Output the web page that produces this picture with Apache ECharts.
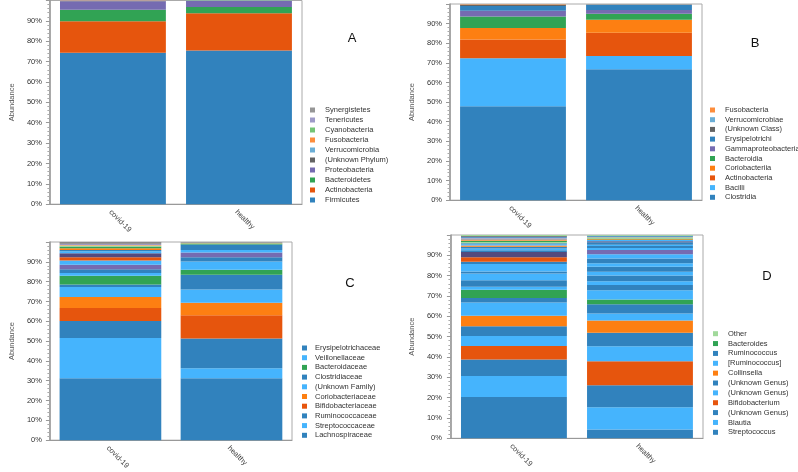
<!DOCTYPE html>
<html>
<head>
<meta charset="utf-8">
<script src="https://cdn.jsdelivr.net/npm/echarts@6/dist/echarts.min.js"></script>
<style>
html,body{margin:0;padding:0;background:#fff;width:798px;height:472px;overflow:hidden;}
.p{position:absolute;}
</style>
</head>
<body>
<div id="pA" class="p" style="left:0;top:0;width:400px;height:236px;"></div>
<div id="pB" class="p" style="left:400px;top:0;width:398px;height:232px;"></div>
<div id="pC" class="p" style="left:0;top:236px;width:400px;height:236px;"></div>
<div id="pD" class="p" style="left:400px;top:232px;width:398px;height:240px;"></div>
<script>
// ---------------- DATA ----------------
const categories = ['covid-19', 'healthy'];
const yTicks = [0, 10, 20, 30, 40, 50, 60, 70, 80, 90];

// Panel A – phylum (stack order bottom -> top)
const phylumNames   = ['Firmicutes','Actinobacteria','Bacteroidetes','Proteobacteria','(Unknown Phylum)','Verrucomicrobia','Fusobacteria','Cyanobacteria','Tenericutes','Synergistetes'];
const phylumCovid   = [74.3, 15.5, 5.7, 4.1, 0.1, 0.05, 0.1, 0.05, 0.05, 0.05];
const phylumHealthy = [75.5, 18.2, 3.1, 2.9, 0.1, 0.05, 0.05, 0.05, 0.03, 0.02];

// Panel B – class
const classNames   = ['Clostridia','Bacilli','Actinobacteria','Coriobacteriia','Bacteroidia','Gammaproteobacteria','Erysipelotrichi','(Unknown Class)','Verrucomicrobiae','Fusobacteria'];
const classCovid   = [47.9, 24.5, 9.5, 5.9, 5.8, 2.9, 2.5, 0.6, 0.2, 0.2];
const classHealthy = [66.8, 6.7, 11.9, 6.6, 3.0, 2.0, 2.7, 0.1, 0.1, 0.1];

// Panel C – family
const familyNames   = ['Lachnospiraceae','Streptococcaceae','Ruminococcaceae','Bifidobacteriaceae','Coriobacteriaceae','(Unknown Family)','Clostridiaceae','Bacteroidaceae','Veillonellaceae','Erysipelotrichaceae'];
const familyCovid   = [31.2, 20.3, 8.6, 6.6, 5.6, 5.0, 1.2, 4.5, 1.3, 2.0];
const familyHealthy = [31.3, 5.0, 15.0, 11.7, 6.3, 6.7, 7.5, 2.5, 4.2, 2.1];
// remaining minor families (no legend entry)
const familyMinorCovid   = [2.2, 2.2, 1.6, 2.0, 1.0, 0.7, 0.8, 0.9, 0.5, 0.3, 0.5, 0.7, 0.3];
const familyMinorHealthy = [2.4, 1.3, 2.7, 0.6, 0.1, 0.1, 0.1, 0.4];

// Panel D – genus
const genusNames   = ['Streptococcus','Blautia','(Unknown Genus)','Bifidobacterium','(Unknown Genus)','(Unknown Genus)','Collinsella','[Ruminococcus]','Ruminococcus','Bacteroides'];
const genusCovid   = [20.3, 10.3, 8.2, 6.6, 4.9, 4.8, 5.2, 6.5, 2.2, 4.1];
const genusHealthy = [4.3, 11.0, 10.8, 11.8, 7.4, 6.6, 6.1, 3.4, 4.5, 2.4];
const genusMinorCovid   = [1.5, 3.1, 3.4, 0.9, 3.7, 1.1, 2.3, 2.5, 0.9, 0.8, 0.9, 0.6, 0.6, 0.5, 0.7, 0.6, 0.5, 0.5, 0.5, 0.4, 0.4];
const genusMinorHealthy = [4.5, 2.6, 1.9, 2.8, 1.8, 2.5, 1.7, 2.4, 2.0, 2.1, 1.0, 1.0, 0.6, 1.2, 0.5, 0.6, 0.4, 0.4, 0.5, 0.4, 0.4];
const genusOtherName = 'Other';
const genusOther = [0.5, 0.4];

// ---------------- STYLE ----------------
const BL = '#3182bd', LB = '#45b4fd', OR = '#e6550d', ORG = '#fd7f12', GR = '#31a354',
      PU = '#756bb1', NV = '#544a7d', DG = '#636363', SB = '#6baed6', LO = '#fd8d3c',
      LG = '#74c476', LP = '#9e9ac8', GY = '#969696', PG = '#a1d99b';
const phylumColors = [BL, OR, GR, PU, DG, SB, LO, LG, LP, GY];
const classColors  = [BL, LB, OR, ORG, GR, PU, BL, DG, SB, LO];
const familyColors = [BL, LB, BL, OR, ORG, LB, BL, GR, LB, BL];
const familyMinorCovidColors   = [PU, LB, OR, NV, LB, BL, ORG, GR, PG, LO, LP, GY, DG];
const familyMinorHealthyColors = [PU, LB, BL, GR, PG, LO, LP, GY];
const genusColors = [BL, LB, BL, OR, LB, BL, ORG, LB, BL, GR];
const genusMinorCovidColors   = [LB, BL, LB, BL, LB, BL, OR, NV, BL, LB, BL, ORG, LB, BL, PG, GR, LO, GY, LP, BL, DG];
const genusMinorHealthyColors = [LB, BL, LB, BL, LB, BL, LB, BL, LB, PU, LB, BL, LB, BL, NV, LB, ORG, GR, PG, GY, BL];
const otherColor = PG;

const FONT = 'Liberation Sans, Arial, sans-serif';

function buildPanel(dom, cfg) {
  const chart = echarts.init(dom);
  const series = [];
  const used = {};
  const uniq = n => { let s = n; while (used[s]) s += ' '; used[s] = 1; return s; };
  const legendNames = [];
  cfg.names.forEach((n, i) => {
    const nm = uniq(n);
    legendNames.push(nm);
    series.push({ name: nm, type: 'bar', stack: 's', barCategoryGap: '16%',
      data: [cfg.covid[i], cfg.healthy[i]], itemStyle: { color: cfg.colors[i] } });
  });
  if (cfg.minorCovid) {
    const len = Math.max(cfg.minorCovid.length, cfg.minorHealthy.length);
    for (let k = 0; k < len; k++) {
      series.push({ name: '_minor' + k, type: 'bar', stack: 's', barCategoryGap: '16%',
        data: [
          { value: cfg.minorCovid[k] || 0, itemStyle: { color: cfg.minorCovidColors[k] || GY } },
          { value: cfg.minorHealthy[k] || 0, itemStyle: { color: cfg.minorHealthyColors[k] || GY } }
        ] });
    }
  }
  if (cfg.topName) {
    const nm = uniq(cfg.topName);
    legendNames.push(nm);
    series.push({ name: nm, type: 'bar', stack: 's', barCategoryGap: '16%',
      data: cfg.topValues, itemStyle: { color: cfg.topColor } });
  }
  chart.setOption({
    animation: false,
    textStyle: { fontFamily: FONT },
    grid: Object.assign({ show: true, borderColor: '#aaa', borderWidth: 1, containLabel: false }, cfg.grid),
    xAxis: { type: 'category', data: categories,
      axisLine: { lineStyle: { color: '#999' } }, axisTick: { show: false },
      axisLabel: { rotate: -45, fontSize: 7.5, color: '#444', margin: 4, verticalAlign: 'top', fontFamily: FONT } },
    yAxis: { type: 'value', min: 0, max: 100, interval: 10,
      name: 'Abundance', nameLocation: 'middle', nameGap: cfg.nameGap,
      nameTextStyle: { fontSize: 7.5, color: '#555', fontFamily: FONT },
      axisLine: { show: true, lineStyle: { color: '#999', width: 1.5 } },
      axisTick: { show: true, length: 4, lineStyle: { color: '#999' } },
      minorTick: { show: true, splitNumber: 5, length: 2.5, lineStyle: { color: '#aaa' } },
      splitLine: { show: false },
      axisLabel: { fontSize: 7.5, color: '#333', margin: cfg.labelMargin, showMaxLabel: false, fontFamily: FONT,
        formatter: v => (yTicks.indexOf(v) >= 0 ? v + '%' : '') } },
    legend: { orient: 'vertical', left: cfg.legend.left, top: cfg.legend.top, padding: 0,
      data: legendNames.slice().reverse(), icon: 'rect', itemWidth: 5, itemHeight: 5,
      itemGap: cfg.legend.gap, selectedMode: false,
      formatter: n => n.trim(),
      textStyle: { fontSize: 7.5, color: '#333', lineHeight: 8, fontFamily: FONT, padding: [0, 0, 0, cfg.legend.pad] } },
    graphic: [{ type: 'text', x: cfg.letter[0], y: cfg.letter[1],
      style: { text: cfg.letter[2], font: '13px ' + FONT, fill: '#111', align: 'center', verticalAlign: 'middle', textAlign: 'center', textVerticalAlign: 'middle' } }],
    series: series
  });
}

buildPanel(document.getElementById('pA'), {
  names: phylumNames, covid: phylumCovid, healthy: phylumHealthy, colors: phylumColors,
  grid: { left: 41, top: 0.5, width: 261, height: 205.5 }, nameGap: 32, labelMargin: 8,
  legend: { left: 310, top: 106, gap: 2, pad: 5 }, letter: [352, 38, 'A']
});
buildPanel(document.getElementById('pB'), {
  names: classNames, covid: classCovid, healthy: classHealthy, colors: classColors,
  grid: { left: 49, top: 4, width: 253, height: 199 }, nameGap: 34, labelMargin: 8,
  legend: { left: 310, top: 106, gap: 1.7, pad: 5 }, letter: [355, 43, 'B']
});
buildPanel(document.getElementById('pC'), {
  names: familyNames, covid: familyCovid, healthy: familyHealthy, colors: familyColors,
  minorCovid: familyMinorCovid, minorHealthy: familyMinorHealthy,
  minorCovidColors: familyMinorCovidColors, minorHealthyColors: familyMinorHealthyColors,
  grid: { left: 40, top: 6, width: 252, height: 200 }, nameGap: 32.5, labelMargin: 8,
  legend: { left: 302, top: 108, gap: 1.7, pad: 3 }, letter: [350, 47, 'C']
});
buildPanel(document.getElementById('pD'), {
  names: genusNames, covid: genusCovid, healthy: genusHealthy, colors: genusColors,
  minorCovid: genusMinorCovid, minorHealthy: genusMinorHealthy,
  minorCovidColors: genusMinorCovidColors, minorHealthyColors: genusMinorHealthyColors,
  topName: genusOtherName, topValues: genusOther, topColor: otherColor,
  grid: { left: 45, top: 3, width: 258, height: 203.3 }, nameGap: 32.3, labelMargin: 9,
  legend: { left: 313, top: 97.7, gap: 1.86, pad: 5 }, letter: [367, 44, 'D']
});
</script>
</body>
</html>
